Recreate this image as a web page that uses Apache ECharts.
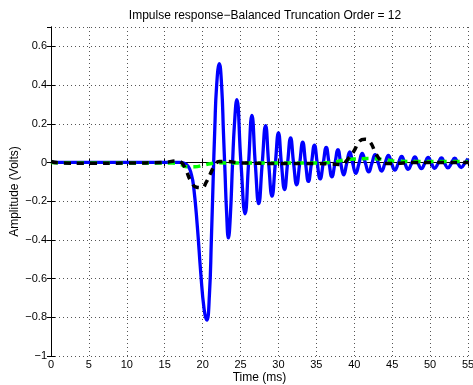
<!DOCTYPE html>
<html>
<head>
<meta charset="utf-8">
<script src="https://cdn.jsdelivr.net/npm/echarts@6/dist/echarts.min.js"></script>
<style>
  html, body { margin: 0; padding: 0; background: #fff; }
  #main { width: 473px; height: 385px; }
</style>
</head>
<body>
<div id="main"></div>
<script>
// blue: full model response
const blueT = [0, 5, 10, 15, 17, 17.5, 18.1, 18.5, 18.8, 19.3, 19.75, 20.2, 20.55, 20.9, 21.15, 21.38, 21.6, 21.85,
  22.2, 22.5, 22.75, 22.95, 23.15, 23.4, 23.65, 23.95, 24.2, 24.5, 25.05, 25.6, 26.05, 26.5, 26.95, 27.4, 27.85,
  28.3, 28.72, 29.15, 29.58, 30.0, 30.4, 30.8, 31.2, 31.6, 32.0, 32.4, 32.8, 33.2, 33.58, 33.95, 34.35, 34.75,
  35.12, 35.5, 35.9, 36.3, 36.68, 37.05, 37.45, 37.85, 38.22, 38.6, 39.0, 39.4, 39.8, 40.2, 40.62, 41.05, 41.48,
  41.9, 42.32, 42.75, 43.18, 43.6, 44.05, 44.5, 44.92, 45.35, 45.8, 46.25, 46.68, 47.1, 47.55, 48.0, 48.42, 48.85,
  49.3, 49.75, 50.18, 50.6, 51.05, 51.5, 51.92, 52.35, 52.8, 53.25, 53.68, 54.1, 54.55, 55.0];
const blueV = [0, 0, 0, 0, 0, -0.003, -0.02, -0.06, -0.12, -0.33, -0.57, -0.76, -0.815, -0.68, -0.40, -0.1, 0.17, 0.40,
  0.51, 0.40, 0.15, -0.05, -0.25, -0.39, -0.28, 0.0, 0.2, 0.325, 0.0, -0.265, -0.01, 0.243, -0.01, -0.213, -0.01,
  0.19, -0.01, -0.174, -0.01, 0.153, -0.01, -0.14, -0.005, 0.127, -0.005, -0.115, -0.005, 0.105, -0.005, -0.098, -0.005, 0.09,
  -0.005, -0.085, -0.005, 0.078, -0.005, -0.074, -0.005, 0.066, -0.005, -0.064, -0.005, 0.055, -0.005, -0.056, -0.005, 0.047, -0.005,
  -0.049, -0.005, 0.041, -0.005, -0.044, -0.005, 0.036, -0.005, -0.039, -0.005, 0.032, -0.005, -0.035, -0.005, 0.029, -0.005, -0.032,
  -0.005, 0.026, -0.005, -0.03, -0.005, 0.024, -0.005, -0.028, -0.005, 0.022, -0.005, -0.026, -0.005, 0.02];

// green dashed
const greenT = [0, 5, 10, 16, 17, 18, 19, 20, 21, 22, 25, 30, 35, 37, 38.5, 40, 42, 44, 45.5, 48, 55];
const greenV = [0, -0.003, -0.003, -0.003, -0.01, -0.022, -0.022, -0.015, -0.007, -0.002, -0.003, -0.003, -0.003, 0.0,
  0.012, 0.018, 0.02, 0.015, 0.007, 0.005, 0.005];

// black dashed (reduced order 12)
const blackT = [0, 1, 5, 10, 15, 16.5, 17.2, 17.8, 18.5, 19.2, 19.9, 20.5, 21.0, 21.6, 22.2, 23, 25, 30, 35, 37, 38.3,
  39.2, 39.9, 40.7, 41.4, 42.1, 42.8, 43.5, 44.2, 45, 48, 50, 55];
const blackV = [0.005, -0.002, -0.004, -0.003, 0.0, 0.008, 0.0, -0.04, -0.1, -0.128, -0.13, -0.1, -0.06, -0.015, 0.005,
  0.005, -0.002, -0.005, -0.005, -0.008, -0.01, 0.02, 0.055, 0.11, 0.12, 0.105, 0.05, 0.01, -0.005, -0.005, 0.0, 0.0, 0.0];

const xTicks = [0, 5, 10, 15, 20, 25, 30, 35, 40, 45, 50, 55];
const yTicks = [-1, -0.8, -0.6, -0.4, -0.2, 0, 0.2, 0.4, 0.6];

function zip(t, v) {
  return t.map(function (x, i) { return [x, v[i]]; });
}

function fmtY(v) {
  if (Math.abs(v) < 1e-9) return '0';
  const s = (Math.round(v * 10) / 10).toString();
  return s.replace('-', '\u2212');
}

const font = 'Liberation Sans, Arial, Helvetica, sans-serif';
const tickStyle = { show: true, inside: true, length: 4, lineStyle: { color: '#000', width: 1 } };
const lineStyle = { show: true, lineStyle: { color: '#000', width: 1 } };
const dotted = { show: true, lineStyle: { color: '#555', width: 1, type: [1, 3] } };

const option = {
  animation: false,
  backgroundColor: '#fff',
  title: {
    text: 'Impulse response\u2212Balanced Truncation Order = 12',
    left: 260,
    top: 5,
    textAlign: 'center',
    textStyle: { fontFamily: font, fontSize: 12, fontWeight: 'normal', color: '#000' }
  },
  grid: { left: 51, top: 27, right: 5, bottom: 29, show: false, outerBoundsMode: 'none', containLabel: false },
  xAxis: [
    {
      type: 'value',
      min: 0, max: 55, interval: 5,
      name: 'Time (ms)',
      nameLocation: 'middle',
      nameGap: 16,
      nameMoveOverlap: false,
      nameTextStyle: { fontFamily: font, fontSize: 12, color: '#000' },
      axisLine: lineStyle,
      axisTick: tickStyle,
      splitLine: dotted,
      axisLabel: {
        fontFamily: font, fontSize: 11, color: '#000', margin: 3,
        formatter: function (v) { return xTicks.indexOf(v) >= 0 ? String(v) : ''; }
      }
    },
    {
      type: 'value', position: 'top',
      min: 0, max: 55, interval: 5,
      axisLine: lineStyle,
      axisTick: tickStyle,
      splitLine: { show: false },
      axisLabel: { show: false }
    }
  ],
  yAxis: [
    {
      type: 'value',
      min: -1, max: 0.7, interval: 0.2,
      name: 'Amplitude (Volts)',
      nameLocation: 'middle',
      nameGap: 30,
      nameRotate: 90,
      nameMoveOverlap: false,
      nameTextStyle: { fontFamily: font, fontSize: 12, color: '#000' },
      axisLine: lineStyle,
      axisTick: tickStyle,
      splitLine: dotted,
      axisLabel: {
        fontFamily: font, fontSize: 11, color: '#000', margin: 4,
        showMaxLabel: false,
        formatter: function (v) {
          const hit = yTicks.some(function (y) { return Math.abs(y - v) < 1e-6; });
          return hit ? fmtY(v) : '';
        }
      }
    },
    {
      type: 'value', position: 'right',
      min: -1, max: 0.7, interval: 0.2,
      axisLine: lineStyle,
      axisTick: tickStyle,
      splitLine: { show: false },
      axisLabel: { show: false }
    }
  ],
  series: [
    {
      type: 'line', data: zip(blueT, blueV), smooth: 0.5, symbol: 'none',
      lineStyle: { color: '#0000ff', width: 3.3 }, z: 2
    },
    {
      type: 'line', data: zip(greenT, greenV), smooth: true, symbol: 'none',
      lineStyle: { color: '#00ff00', width: 3.5, type: [7, 6] }, z: 3
    },
    {
      type: 'line', data: zip(blackT, blackV), smooth: true, symbol: 'none',
      lineStyle: { color: '#000000', width: 3.5, type: [7, 6] }, z: 4
    }
  ]
};

const chart = echarts.init(document.getElementById('main'), null, { renderer: 'canvas' });
chart.setOption(option);
window.addEventListener('resize', function () { chart.resize(); });
</script>
</body>
</html>
